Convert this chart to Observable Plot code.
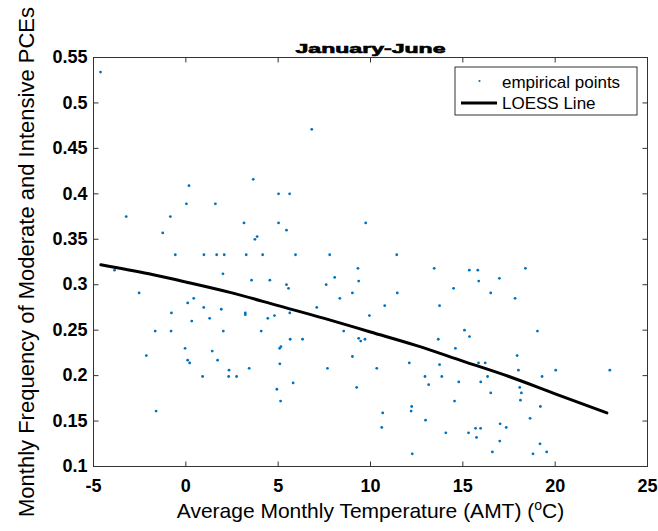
<!DOCTYPE html>
<html><head><meta charset="utf-8">
<script src="https://cdn.jsdelivr.net/npm/d3@7"></script>
<script src="https://cdn.jsdelivr.net/npm/@observablehq/plot@0.6"></script>
<style>
body{margin:0;background:#fff;}
#chart{width:658px;height:531px;}
</style>
</head><body><div id="chart"></div>
<script>
// ---- data ----
const amt = [
  -4.62, 3.65, 0.17, 5.02, 0.03, 1.60, -3.23, -0.84, 3.15, 5.02, -1.25, 3.86, 3.74,
  -0.57, 0.98, 1.67, 2.08, 3.27, 4.16,
  6.82, 5.62, 9.74, 5.45, 5.94, 7.79, 11.42,
  -3.86, 2.01, 3.56, 4.55, -2.53, 0.43, 0.10, 0.97, 1.92, -0.78, 3.22, 3.22, 4.80, 4.44, 1.29, 0.32,
  -1.66, -0.80, 2.03, 4.08, -0.04, 1.43, 5.15, 5.08, -2.14, 0.10, 0.21, 1.72, 5.09, 2.34, 3.43,
  0.91, 2.32, 2.75, 4.93, 5.13, -1.61,
  9.32, 13.45, 15.35, 15.81, 8.06, 9.36, 15.86, 5.45, 5.56, 7.60, 14.50, 9.02, 11.45, 8.34,
  10.77, 13.74, 7.09, 5.63, 9.94, 8.55, 15.09, 5.65, 6.32, 9.36, 9.47, 9.70, 13.67, 15.36,
  14.60, 9.02, 12.10, 13.74, 7.67, 10.34, 12.95, 13.86, 5.81, 14.78, 13.15, 9.25, 14.55,
  12.23, 12.20, 10.66, 12.98, 10.61, 14.08, 15.31, 12.26,
  18.39, 16.98, 16.51, 17.83, 19.04, 17.94, 15.85, 16.21, 18.01, 20.03, 22.96, 16.34, 19.29,
  15.97, 18.08, 16.51, 18.17, 18.12, 19.20, 18.64, 17.02, 17.35, 15.69, 15.96, 15.74, 17.00,
  19.18, 16.60, 18.80, 19.54
];
const freq = [
  0.534, 0.416, 0.409, 0.400, 0.389, 0.389, 0.375, 0.375, 0.368, 0.368, 0.357, 0.353, 0.350,
  0.333, 0.333, 0.333, 0.333, 0.333, 0.333,
  0.471, 0.400, 0.368, 0.360, 0.333, 0.333, 0.333,
  0.316, 0.312, 0.305, 0.305, 0.291, 0.285, 0.280, 0.275, 0.273, 0.269, 0.269, 0.267, 0.266, 0.263, 0.263, 0.260,
  0.249, 0.249, 0.249, 0.249, 0.230, 0.227, 0.232, 0.230, 0.222, 0.217, 0.214, 0.217, 0.213, 0.206, 0.208,
  0.199, 0.199, 0.199, 0.185, 0.172, 0.161,
  0.318, 0.318, 0.316, 0.316, 0.308, 0.304, 0.304, 0.300, 0.296, 0.300, 0.296, 0.291, 0.291, 0.285,
  0.277, 0.277, 0.275, 0.269, 0.266, 0.249, 0.250, 0.240, 0.240, 0.241, 0.238, 0.240, 0.240, 0.243,
  0.230, 0.221, 0.214, 0.212, 0.208, 0.208, 0.199, 0.199, 0.192, 0.193, 0.190, 0.187, 0.172,
  0.166, 0.161, 0.159, 0.151, 0.143, 0.137, 0.137, 0.114,
  0.318, 0.307, 0.291, 0.285, 0.249, 0.222, 0.214, 0.214, 0.206, 0.206, 0.206, 0.199, 0.199,
  0.193, 0.187, 0.181, 0.181, 0.173, 0.166, 0.153, 0.147, 0.143, 0.142, 0.142, 0.132, 0.128,
  0.125, 0.116, 0.114, 0.116
];
const loessAmt  = [-4.6, -2, 0, 2.5, 5, 7.5, 10, 12.5, 15, 17.5, 20, 22.8];
const loessFreq = [0.322, 0.312, 0.303, 0.291, 0.277, 0.263, 0.248, 0.233, 0.216, 0.199, 0.180, 0.159];
const xTicks = [-5, 0, 5, 10, 15, 20, 25];
const xTickLabels = ["-5", "0", "5", "10", "15", "20", "25"];
const yTicks = [0.1, 0.15, 0.2, 0.25, 0.3, 0.35, 0.4, 0.45, 0.5, 0.55];
const yTickLabels = ["0.1", "0.15", "0.2", "0.25", "0.3", "0.35", "0.4", "0.45", "0.5", "0.55"];
const titleText = "January-June";
const xLabelText = "Average Monthly Temperature (AMT) (oC)";
const yLabelText = "Monthly Frequency of Moderate and Intensive PCEs";
const legendLabels = ["empirical points", "LOESS Line"];

// ---- tables built from the arrays ----
const points = amt.map((t, i) => ({t, f: freq[i]}));
const loess = loessAmt.map((t, i) => ({t, f: loessFreq[i]}));

const AX = "#333";
const BLUE = "#0072BD";
const FONT = "'Liberation Sans', Arial, sans-serif";
const TL = 5; // inward tick length (px)
const tickUp    = {draw(c) { c.moveTo(0, 0); c.lineTo(0, -TL); }};
const tickDown  = {draw(c) { c.moveTo(0, 0); c.lineTo(0, TL); }};
const tickRight = {draw(c) { c.moveTo(0, 0); c.lineTo(TL, 0); }};
const tickLeft  = {draw(c) { c.moveTo(0, 0); c.lineTo(-TL, 0); }};

const chart = Plot.plot({
  width: 658,
  height: 531,
  marginLeft: 93,
  marginRight: 11,
  marginTop: 57,
  marginBottom: 65,
  style: {fontFamily: FONT, background: "#fff", color: "#000"},
  x: {domain: [-5, 25], axis: null},
  y: {domain: [0.1, 0.55], axis: null},
  marks: [
    Plot.dot(points, {x: "t", y: "f", r: 1.4, fill: BLUE, stroke: null}),
    Plot.line(loess, {x: "t", y: "f", stroke: "#000", strokeWidth: 3, curve: "monotone-x"}),
    Plot.frame({stroke: AX, strokeWidth: 1}),
    // inward tick marks on all four sides
    Plot.dot(xTicks, {x: d => d, frameAnchor: "bottom", symbol: tickUp, stroke: AX, fill: "none", strokeWidth: 1}),
    Plot.dot(xTicks, {x: d => d, frameAnchor: "top", symbol: tickDown, stroke: AX, fill: "none", strokeWidth: 1}),
    Plot.dot(yTicks, {y: d => d, frameAnchor: "left", symbol: tickRight, stroke: AX, fill: "none", strokeWidth: 1}),
    Plot.dot(yTicks, {y: d => d, frameAnchor: "right", symbol: tickLeft, stroke: AX, fill: "none", strokeWidth: 1}),
    // tick labels
    Plot.axisX(xTicks, {anchor: "bottom", tickSize: 0, tickPadding: 13,
      tickFormat: (d, i) => xTickLabels[i], fontSize: 18, fontWeight: "bold", fill: "#000", label: null}),
    Plot.axisY(yTicks, {anchor: "left", tickSize: 0, tickPadding: 6,
      tickFormat: (d, i) => yTickLabels[i], fontSize: 18, fontWeight: "bold", fill: "#000", label: null}),
    Plot.text([titleText], {frameAnchor: "top", dy: -13.5, text: d => d, fontSize: 13, fontWeight: "bold", fill: "#000", textAnchor: "middle"}),
    Plot.text([xLabelText], {frameAnchor: "bottom", dy: 51, text: d => d, fontSize: 21, fill: "#000", textAnchor: "middle"}),
    Plot.text([yLabelText], {frameAnchor: "left", dx: -67, rotate: -90, text: d => d, fontSize: 22, fill: "#000", textAnchor: "middle"})
  ]
});
document.getElementById("chart").appendChild(chart);

const svg = d3.select(chart);
// stretch the title like the reference
svg.selectAll("text").filter(function() { return this.textContent === titleText; })
  .attr("textLength", 150).attr("lengthAdjust", "spacingAndGlyphs")
  .attr("stroke", "#000").attr("stroke-width", 0.6);
// superscript o in the x label
svg.selectAll("text").filter(function() { return this.textContent === xLabelText; })
  .each(function() {
    const t = d3.select(this);
    t.text(null);
    t.append("tspan").text("Average Monthly Temperature (AMT) (");
    t.append("tspan").attr("baseline-shift", "super").attr("font-size", "14px").text("o");
    t.append("tspan").text("C)");
  });

// legend
const lg = svg.append("g").attr("font-family", FONT).attr("font-size", 17).attr("text-anchor", "start");
lg.append("rect").attr("x", 455).attr("y", 67).attr("width", 182).attr("height", 48)
  .attr("fill", "#fff").attr("stroke", AX).attr("stroke-width", 1);
lg.append("circle").attr("cx", 479.5).attr("cy", 81).attr("r", 1.1).attr("fill", BLUE);
lg.append("line").attr("x1", 461).attr("x2", 497).attr("y1", 103).attr("y2", 103)
  .attr("stroke", "#000").attr("stroke-width", 3);
lg.selectAll("text.lab").data(legendLabels).join("text").attr("class", "lab")
  .attr("x", 502).attr("y", (d, i) => i === 0 ? 82.5 : 103.5)
  .attr("dy", "0.35em").attr("text-anchor", "start").attr("fill", "#000").text(d => d);
</script>
</body></html>
